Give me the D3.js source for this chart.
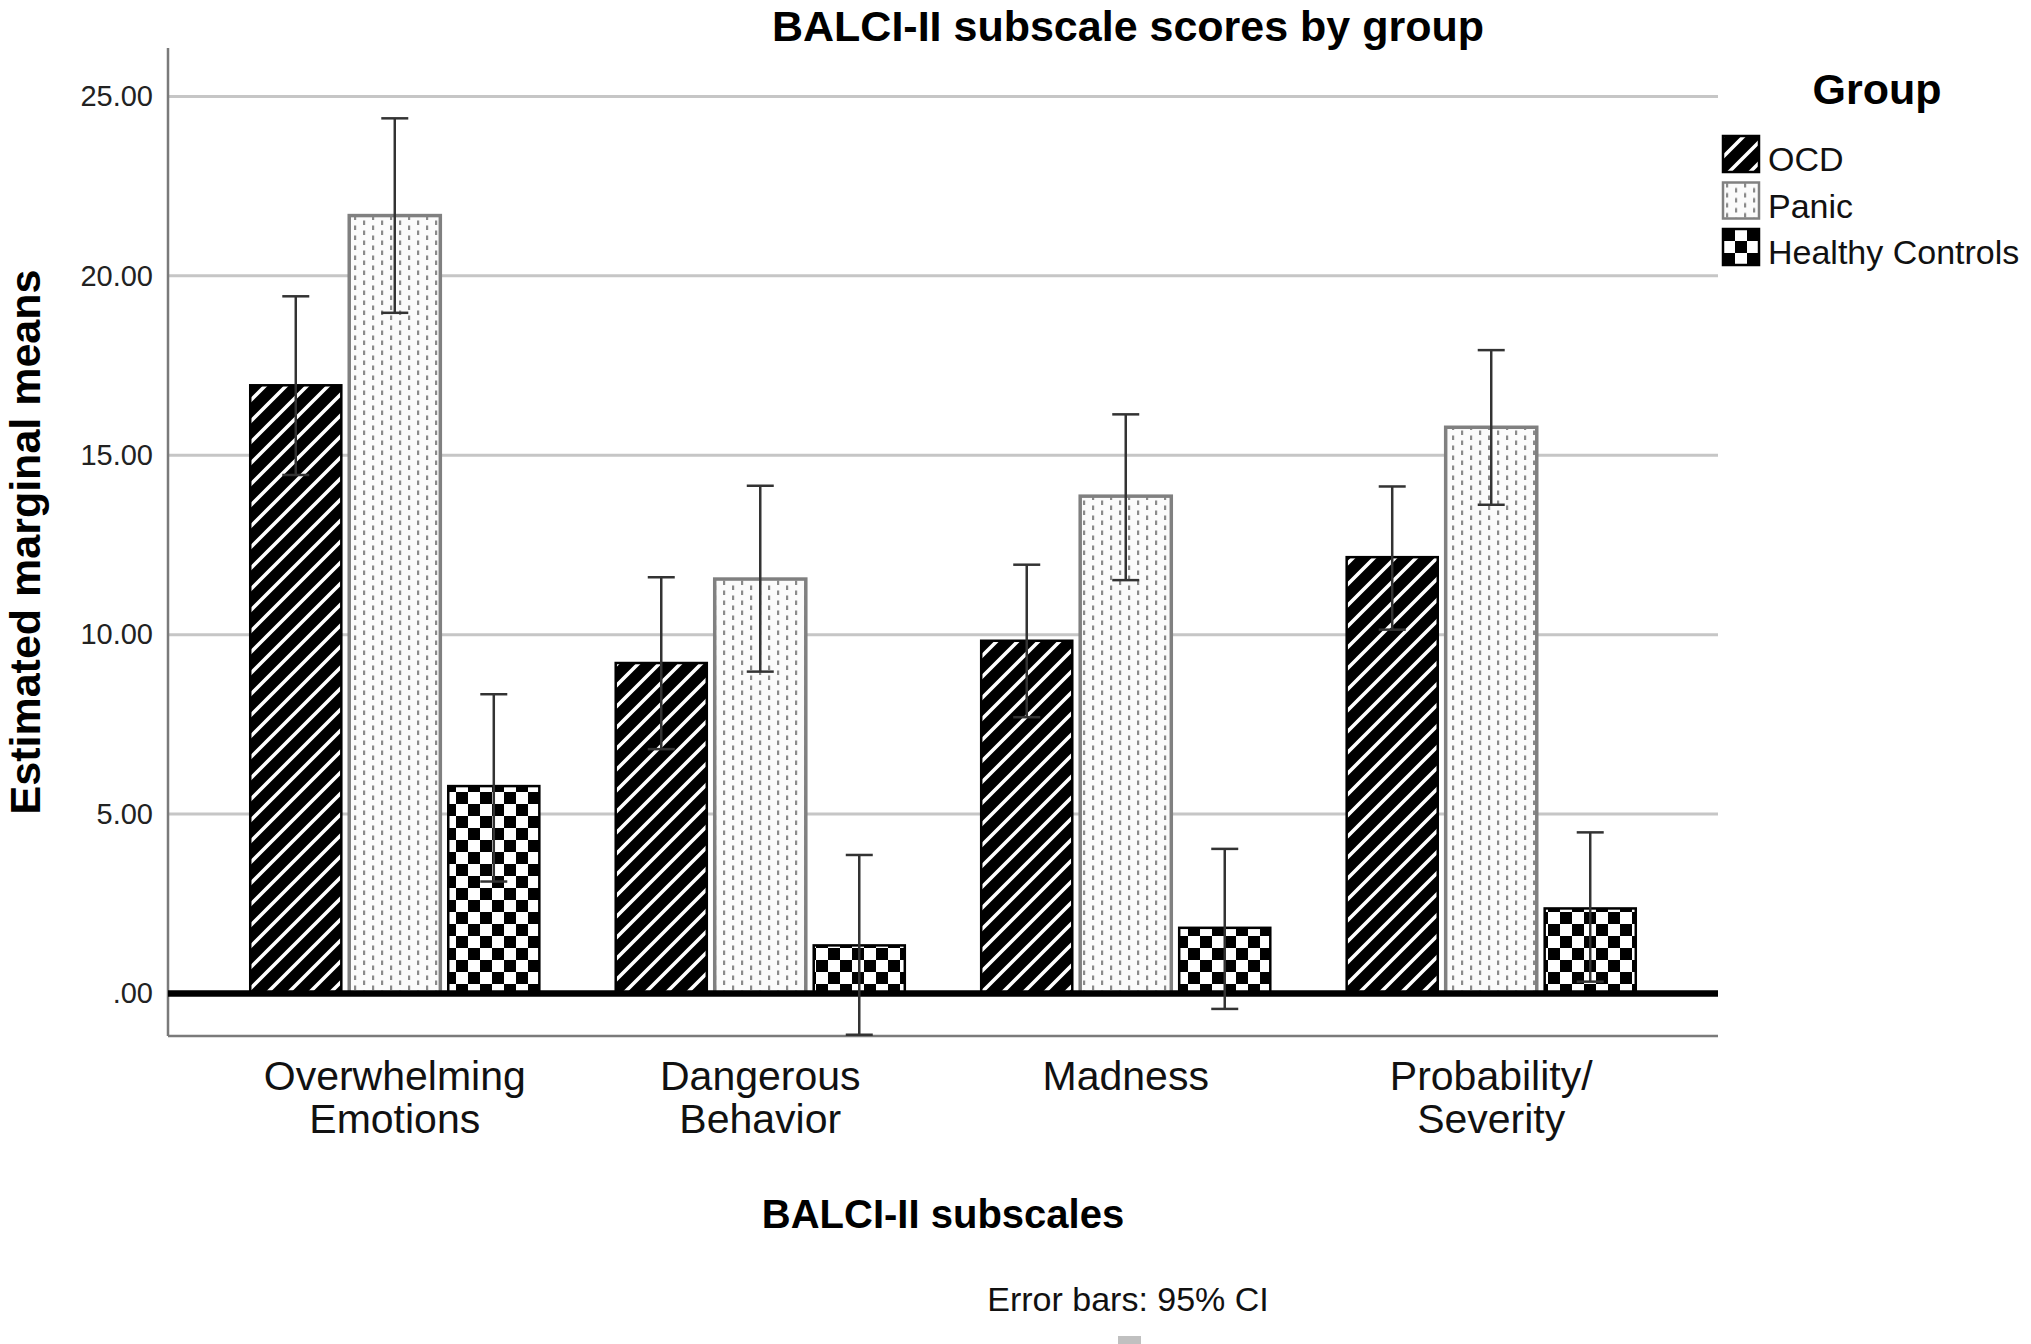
<!DOCTYPE html>
<html>
<head>
<meta charset="utf-8">
<script src="https://cdn.jsdelivr.net/npm/d3@7"></script>
<style>
  body { margin: 0; background: #fff; }
  text { font-family: "Liberation Sans", Arial, sans-serif; }
</style>
</head>
<body>
<script>
// chart data
var categories = ["Overwhelming Emotions", "Dangerous Behavior", "Madness", "Probability/ Severity"];
var categoryLines = [["Overwhelming", "Emotions"], ["Dangerous", "Behavior"], ["Madness"], ["Probability/", "Severity"]];
var groups = ["OCD", "Panic", "Healthy Controls"];

var ocdMean = [16.95, 9.21, 9.83, 12.16];
var ocdLow = [14.45, 6.81, 7.70, 10.14];
var ocdHigh = [19.43, 11.60, 11.95, 14.13];

var panicMean = [21.68, 11.55, 13.86, 15.78];
var panicLow = [18.97, 8.97, 11.52, 13.62];
var panicHigh = [24.39, 14.15, 16.14, 17.93];

var hcMean = [5.78, 1.34, 1.83, 2.37];
var hcLow = [3.12, -1.15, -0.43, 0.33];
var hcHigh = [8.34, 3.86, 4.03, 4.49];

var tickValues = [0, 5, 10, 15, 20, 25];
var tickLabels = [".00", "5.00", "10.00", "15.00", "20.00", "25.00"];

// build rows for drawing
var series = [
  {group: groups[0], mean: ocdMean, low: ocdLow, high: ocdHigh, fill: "url(#stripes)", stroke: "#000"},
  {group: groups[1], mean: panicMean, low: panicLow, high: panicHigh, fill: "url(#dots)", stroke: "#808080"},
  {group: groups[2], mean: hcMean, low: hcLow, high: hcHigh, fill: "url(#checks)", stroke: "#000"}
];
var rows = [];
categories.forEach(function(c, i) {
  series.forEach(function(s) {
    rows.push({cat: c, group: s.group, value: s.mean[i], low: s.low[i], high: s.high[i], fill: s.fill, stroke: s.stroke});
  });
});

// plot frame
var W = 2031, H = 1344;
var plot = {left: 168, right: 1718, top: 48, bottom: 1036};

var svg = d3.select("body").append("svg")
    .attr("width", W)
    .attr("height", H);

// fill patterns
var defs = svg.append("defs");

var stripes = defs.append("pattern")
    .attr("id", "stripes")
    .attr("patternUnits", "userSpaceOnUse")
    .attr("width", 21).attr("height", 21);
stripes.append("rect").attr("width", 21).attr("height", 21).attr("fill", "#000");
stripes.append("path")
    .attr("d", "M-2,2 L2,-2 M0,21 L21,0 M19,23 L23,19")
    .attr("stroke", "#fff").attr("stroke-width", 3.6);

var dots = defs.append("pattern")
    .attr("id", "dots")
    .attr("patternUnits", "userSpaceOnUse")
    .attr("width", 18).attr("height", 10);
dots.append("rect").attr("width", 18).attr("height", 10).attr("fill", "#fbfbfb");
dots.append("rect").attr("x", 3).attr("y", 0.5).attr("width", 2.2).attr("height", 4.5).attr("fill", "#8a8a8a");
dots.append("rect").attr("x", 12).attr("y", 5.5).attr("width", 2.2).attr("height", 4.5).attr("fill", "#8a8a8a");

var checks = defs.append("pattern")
    .attr("id", "checks")
    .attr("patternUnits", "userSpaceOnUse")
    .attr("width", 24).attr("height", 24);
checks.append("rect").attr("width", 24).attr("height", 24).attr("fill", "#fff");
checks.append("rect").attr("width", 12).attr("height", 12).attr("fill", "#000");
checks.append("rect").attr("x", 12).attr("y", 12).attr("width", 12).attr("height", 12).attr("fill", "#000");

// scales
var x0 = d3.scaleBand()
    .domain(categories)
    .range([plot.left, plot.right])
    .paddingInner(0.209)
    .paddingOuter(0.225);

var x1 = d3.scaleBand()
    .domain(groups)
    .range([0, x0.bandwidth()])
    .paddingInner(0.08);

var y = d3.scaleLinear()
    .domain([-1.185, 26.35])
    .range([plot.bottom, plot.top]);

// gridlines
svg.append("g")
  .selectAll("line")
  .data(tickValues.filter(function(d) { return d !== 0; }))
  .enter().append("line")
    .attr("x1", plot.left).attr("x2", plot.right)
    .attr("y1", function(d) { return y(d); })
    .attr("y2", function(d) { return y(d); })
    .attr("stroke", "#c6c6c6")
    .attr("stroke-width", 3);

// y axis labels
var yAxis = svg.append("g")
    .attr("transform", "translate(" + plot.left + ",0)")
    .call(d3.axisLeft(y)
      .tickValues(tickValues)
      .tickSize(0)
      .tickPadding(15)
      .tickFormat(function(d, i) { return tickLabels[i]; }));
yAxis.select(".domain").remove();
yAxis.selectAll("text")
    .style("font-family", "'Liberation Sans', Arial, sans-serif")
    .style("font-size", "29px")
    .attr("fill", "#222");

// axis frame lines
svg.append("line")
    .attr("x1", plot.left).attr("x2", plot.left)
    .attr("y1", plot.top).attr("y2", plot.bottom)
    .attr("stroke", "#7a7a7a").attr("stroke-width", 2.5);
svg.append("line")
    .attr("x1", plot.left).attr("x2", plot.right)
    .attr("y1", plot.bottom).attr("y2", plot.bottom)
    .attr("stroke", "#7a7a7a").attr("stroke-width", 2.5);

// bars
svg.append("g")
  .selectAll("rect")
  .data(rows)
  .enter().append("rect")
    .attr("x", function(d) { return x0(d.cat) + x1(d.group); })
    .attr("y", function(d) { return y(d.value); })
    .attr("width", x1.bandwidth())
    .attr("height", function(d) { return y(0) - y(d.value); })
    .attr("fill", function(d) { return d.fill; })
    .attr("stroke", function(d) { return d.stroke; })
    .attr("stroke-width", function(d) { return d.stroke === "#000" ? 2.5 : 3.5; });

// zero line
svg.append("line")
    .attr("x1", plot.left).attr("x2", plot.right)
    .attr("y1", y(0)).attr("y2", y(0))
    .attr("stroke", "#000").attr("stroke-width", 6.5);

// error bars
var capW = 27;
var err = svg.append("g")
  .selectAll("g")
  .data(rows)
  .enter().append("g")
    .attr("transform", function(d) {
      return "translate(" + (x0(d.cat) + x1(d.group) + x1.bandwidth() / 2) + ",0)";
    })
    .attr("stroke", "#333")
    .attr("stroke-width", 2.5);
err.append("line")
    .attr("y1", function(d) { return y(d.low); })
    .attr("y2", function(d) { return y(d.high); });
err.append("line")
    .attr("x1", -capW / 2).attr("x2", capW / 2)
    .attr("y1", function(d) { return y(d.high); })
    .attr("y2", function(d) { return y(d.high); });
err.append("line")
    .attr("x1", -capW / 2).attr("x2", capW / 2)
    .attr("y1", function(d) { return y(d.low); })
    .attr("y2", function(d) { return y(d.low); });

// category labels
var catLabels = svg.append("g")
  .selectAll("text")
  .data(categories)
  .enter().append("text")
    .attr("x", function(d) { return x0(d) + x0.bandwidth() / 2; })
    .attr("y", 1090)
    .attr("text-anchor", "middle")
    .style("font-size", "41px")
    .attr("fill", "#111");
catLabels.selectAll("tspan")
  .data(function(d, i) { return categoryLines[i]; })
  .enter().append("tspan")
    .attr("x", function() { return this.parentNode.getAttribute("x"); })
    .attr("dy", function(d, i) { return i === 0 ? 0 : 43; })
    .text(function(d) { return d; });

// titles
svg.append("text")
    .attr("x", 1128).attr("y", 41)
    .attr("text-anchor", "middle")
    .style("font-size", "43px").style("font-weight", "bold")
    .text("BALCI-II subscale scores by group");

svg.append("text")
    .attr("x", 943).attr("y", 1228)
    .attr("text-anchor", "middle")
    .style("font-size", "40px").style("font-weight", "bold")
    .text("BALCI-II subscales");

svg.append("text")
    .attr("transform", "translate(40,542) rotate(-90)")
    .attr("text-anchor", "middle")
    .style("font-size", "43px").style("font-weight", "bold")
    .text("Estimated marginal means");

svg.append("text")
    .attr("x", 1128).attr("y", 1311)
    .attr("text-anchor", "middle")
    .style("font-size", "34px")
    .attr("fill", "#111")
    .text("Error bars: 95% CI");

svg.append("rect")
    .attr("x", 1118).attr("y", 1336)
    .attr("width", 23).attr("height", 8)
    .attr("fill", "#c0c0c0");

// legend
svg.append("text")
    .attr("x", 1877).attr("y", 104)
    .attr("text-anchor", "middle")
    .style("font-size", "43px").style("font-weight", "bold")
    .text("Group");

var legend = svg.append("g")
  .selectAll("g")
  .data(series)
  .enter().append("g")
    .attr("transform", function(d, i) { return "translate(1723," + (136 + i * 46.5) + ")"; });
legend.append("rect")
    .attr("width", 36).attr("height", 36)
    .attr("fill", function(d) { return d.fill; })
    .attr("stroke", function(d) { return d.stroke; })
    .attr("stroke-width", 2.5);
legend.append("text")
    .attr("x", 45).attr("y", 35)
    .style("font-size", "34px")
    .attr("fill", "#111")
    .text(function(d) { return d.group; });
</script>
</body>
</html>
